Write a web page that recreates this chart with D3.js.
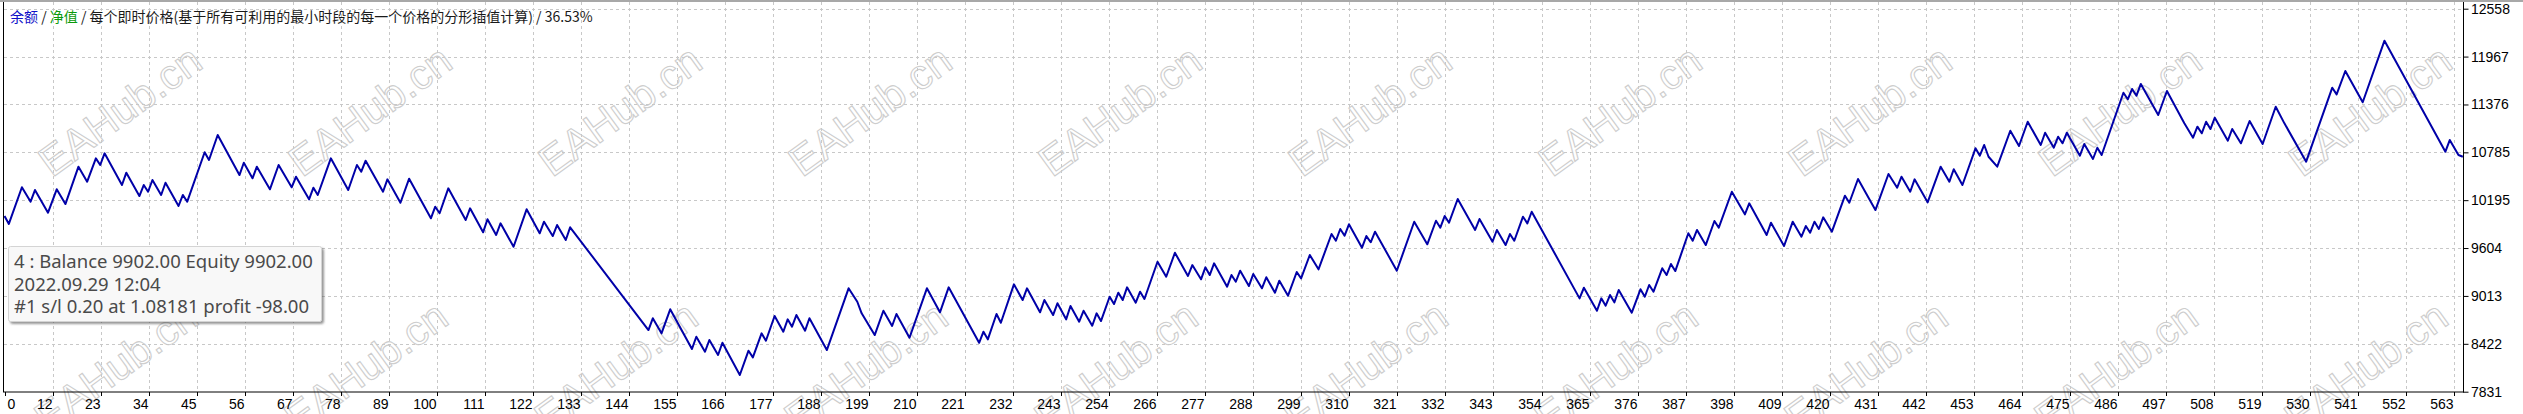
<!DOCTYPE html>
<html>
<head>
<meta charset="utf-8">
<script src="https://cdn.jsdelivr.net/npm/d3@7"></script>
<style>
  body { margin: 0; background: #fff; overflow: hidden; }
  svg { display: block; }
</style>
</head>
<body>
<div id="chart"></div>
<script>
// balance curve, turning points (deal number, balance)
const tradeIdx = [0,1,4,6,7,10,12,14,17,19,21,22,23,27,28,31,32,33,34,36,37,40,41,42,46,47,49,54,55,57,58,61,63,66,67,70,71,72,75,79,81,82,83,87,88,91,93,98,99,100,102,106,107,110,111,113,114,117,120,123,124,126,127,129,130,
  148,149,151,153,158,159,161,162,164,165,169,171,172,174,175,177,179,180,181,182,184,185,189,194,196,197,200,202,204,205,208,212,215,217,224,225,226,228,229,232,234,235,238,239,241,242,244,245,247,248,250,251,252,254,255,256,257,258,260,261,262,265,267,269,272,273,275,276,277,278,281,282,283,284,286,287,289,290,292,
  293,295,297,298,300,302,305,306,307,308,309,312,313,314,315,320,324,327,329,330,331,332,334,338,339,342,343,345,346,347,349,350,351,
  362,363,366,367,368,369,370,371,374,376,377,378,379,381,382,383,384,387,388,389,391,393,394,397,400,401,405,406,409,411,413,414,415,416,417,418,420,423,424,426,
  430,433,435,436,438,439,442,445,447,448,450,453,454,455,456,458,461,463,465,468,469,471,472,473,474,477,478,480,481,482,487,488,489,490,491,495,
  497,501,503,504,505,506,507,508,511,512,514,516,519,522,524,529,535,536,538,542,547,561,562,564,565];
const balance = [10000,9902,10354,10176,10320,10040,10329,10147,10608,10423,10711,10629,10773,10382,10534,10246,10382,10299,10444,10259,10410,10123,10259,10176,10786,10691,10999,10505,10657,10465,10608,10329,10629,10354,10484,10205,10349,10259,10711,10320,10629,10546,10682,10299,10452,10163,10460,9971,10114,10033,10341,9950,10094,9798,9959,9765,9909,9620,10082,9786,9929,9752,9888,9703,9860,
  8592,8737,8551,8848,8358,8509,8324,8469,8284,8435,8037,8337,8255,8551,8460,8765,8571,8724,8633,8777,8584,8737,8345,9107,8941,8798,8530,8830,8642,8790,8497,9107,8811,9119,8435,8571,8477,8790,8682,9156,8962,9107,8811,8962,8777,8922,8724,8888,8695,8830,8645,8798,8703,9003,8913,9053,8962,9119,8929,9065,8975,9435,9250,9546,9259,9394,9218,9366,9271,9415,9127,9271,9188,9324,9135,9283,9107,9243,9053,
  9201,9016,9308,9230,9518,9341,9777,9694,9839,9756,9897,9608,9752,9675,9806,9324,9929,9650,9941,9855,9999,9917,10209,9827,9962,9682,9827,9641,9777,9694,9991,9909,10052,
  8983,9114,8830,8983,8892,9024,8934,9086,8806,9095,9003,9148,9065,9354,9271,9407,9320,9786,9694,9827,9641,9938,9855,10299,10020,10156,9765,9917,9629,9929,9744,9876,9793,9929,9839,9983,9806,10250,10163,10456,
  10073,10518,10349,10484,10299,10452,10168,10608,10423,10576,10382,10835,10744,10876,10731,10608,11052,10863,11163,10876,11027,10842,10978,10897,11027,10744,10888,10703,10842,10752,11521,11440,11567,11484,11629,11246,
  11542,11143,10966,11102,11020,11163,11073,11213,10929,11073,10897,11172,10888,11348,11143,10670,11583,11501,11789,11403,12163,10793,10937,10752,10731];

const xTickLabels = [0,12,23,34,45,56,67,78,89,100,111,122,133,144,155,166,177,188,199,210,221,232,243,254,266,277,288,299,310,321,332,343,354,365,376,387,398,409,420,431,442,453,464,475,486,497,508,519,530,541,552,563];
const yTickLabels = [7831,8422,9013,9604,10195,10785,11376,11967,12558];

const legendParts = ["余额", " / ", "净值", " / 每个即时价格(基于所有可利用的最小时段的每一个价格的分形插值计算) / 36.53%"];
const tooltipLines = ["4 : Balance 9902.00 Equity 9902.00", "2022.09.29 12:04", "#1 s/l 0.20 at 1.08181 profit -98.00"];
const watermarkText = "EAHub.cn";

const width = 2523, height = 414;
const plot = { left: 4.5, right: 2462.8, top: 8.7, bottom: 391.7 };
const axisFont = "'Liberation Sans', Arial, sans-serif";

const svg = d3.select("#chart").append("svg")
  .attr("width", width)
  .attr("height", height);

svg.append("rect").attr("width", width).attr("height", height).attr("fill", "#fff");

const x = d3.scaleLinear().domain([0, 565]).range([plot.left, plot.right]);
const y = d3.scaleLinear().domain([7831, 12558]).range([plot.bottom, plot.top]);

// grid step is fixed in pixels, labels are rounded deal numbers
const xTickPos = xTickLabels.map((l, k) => k * 563 / 51);

// watermark, two rows
const wm = svg.append("g");
for (let k = 0; k < 11; k++) {
  [[52 + 250 * k, 178], [48 + 250 * k, 434]].forEach(p => {
    wm.append("text")
      .attr("transform", `translate(${p[0]},${p[1]}) rotate(-36)`)
      .attr("font-family", axisFont)
      .attr("font-size", 42)
      .attr("fill", "none")
      .attr("stroke", "#cdcdcd")
      .attr("stroke-width", 1.1)
      .text(watermarkText);
  });
}

// grid
svg.append("g").selectAll("line")
  .data(xTickPos.slice(1))
  .join("line")
  .attr("x1", d => Math.round(x(d)) + 0.5)
  .attr("x2", d => Math.round(x(d)) + 0.5)
  .attr("y1", 2)
  .attr("y2", 392)
  .attr("stroke", "#c8c8c8")
  .attr("stroke-dasharray", "3,3");

svg.append("g").selectAll("line")
  .data(yTickLabels.slice(1))
  .join("line")
  .attr("x1", 4)
  .attr("x2", 2463)
  .attr("y1", d => Math.round(y(d)) + 0.5)
  .attr("y2", d => Math.round(y(d)) + 0.5)
  .attr("stroke", "#c8c8c8")
  .attr("stroke-dasharray", "3,3");

// balance line
const line = d3.line()
  .x((d, i) => x(tradeIdx[i]))
  .y(d => y(d));

svg.append("path")
  .datum(balance)
  .attr("d", line)
  .attr("fill", "none")
  .attr("stroke", "#0000a8")
  .attr("stroke-width", 2)
  .attr("stroke-linejoin", "round");

// frame
svg.append("rect").attr("x", 0).attr("y", 0).attr("width", width).attr("height", 2).attr("fill", "#a8a8a8");
svg.append("line").attr("x1", 3.5).attr("x2", 3.5).attr("y1", 2).attr("y2", 392)
  .attr("stroke", "#000");

// axes
const yAxis = d3.axisRight(y)
  .tickValues(yTickLabels)
  .tickSize(5)
  .tickSizeOuter(0)
  .tickFormat(d => d);

const yAxisGroup = svg.append("g")
  .attr("transform", `translate(2463.5, 0)`)
  .call(yAxis);
yAxisGroup.selectAll("text")
  .attr("x", 7.5)
  .attr("font-family", axisFont)
  .attr("font-size", 14)
  .attr("fill", "#000");
yAxisGroup.select(".domain").attr("d", "M0,2V392.5");

const xAxis = d3.axisBottom(x)
  .tickValues(xTickPos)
  .tickSize(4)
  .tickSizeOuter(0)
  .tickFormat((d, i) => xTickLabels[i]);

const xAxisGroup = svg.append("g")
  .attr("transform", `translate(0, 392)`)
  .call(xAxis);
xAxisGroup.selectAll(".tick")
  .attr("transform", d => `translate(${Math.round(x(d)) + 0.5},0)`);
xAxisGroup.selectAll("text")
  .attr("y", 16.5)
  .attr("dy", null)
  .attr("x", (d, i) => i === 0 ? 2 : -1)
  .attr("text-anchor", (d, i) => i === 0 ? "start" : "end")
  .attr("font-family", axisFont)
  .attr("font-size", 14)
  .attr("fill", "#000");
xAxisGroup.select(".domain").attr("d", "M3,0H2464");
xAxisGroup.selectAll("line, path").attr("stroke", "#000");
yAxisGroup.selectAll("line, path").attr("stroke", "#000");

// legend line at the top
const legend = svg.append("text")
  .attr("x", 10)
  .attr("y", 22)
  .attr("font-family", "'Noto Sans CJK SC', sans-serif")
  .attr("font-size", 14)
  .attr("fill", "#1a1a1a");
const legendColors = ["#1010c8", "#1a1a1a", "#0a9a0a", "#1a1a1a"];
legend.selectAll("tspan")
  .data(legendParts)
  .join("tspan")
  .attr("fill", (d, i) => legendColors[i])
  .text(d => d);

// info box
const defs = svg.append("defs");
const f = defs.append("filter").attr("id", "shadow").attr("x", "-5%").attr("y", "-5%").attr("width", "115%").attr("height", "130%");
f.append("feDropShadow").attr("dx", 2).attr("dy", 2).attr("stdDeviation", 1)
  .attr("flood-color", "#444").attr("flood-opacity", 0.55);

const tip = svg.append("g");
tip.append("rect")
  .attr("x", 8.5)
  .attr("y", 246.5)
  .attr("width", 313)
  .attr("height", 75)
  .attr("rx", 2)
  .attr("fill", "#f8f8f8")
  .attr("stroke", "#d4d4d4")
  .attr("filter", "url(#shadow)");
tip.selectAll("text")
  .data(tooltipLines)
  .join("text")
  .attr("x", 14)
  .attr("y", (d, i) => 268.3 + i * 22.5)
  .attr("font-family", "'Noto Sans', sans-serif")
  .attr("font-size", 18.5)
  .attr("fill", "#4a4a4a")
  .text(d => d);
</script>
</body>
</html>
